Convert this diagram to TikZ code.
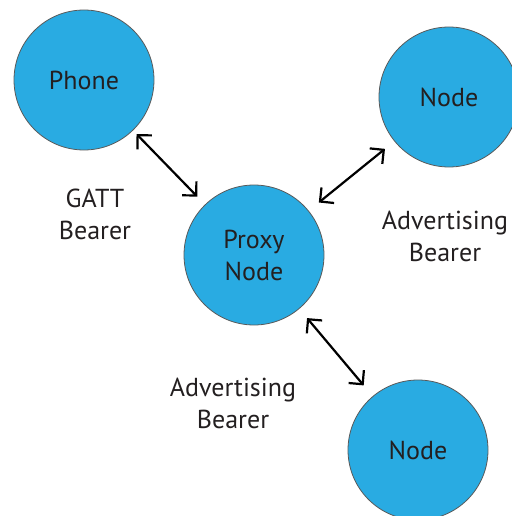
\documentclass[tikz,border=0pt]{standalone}
\usepackage{fontspec}
\setmainfont{PT Sans}
\usetikzlibrary{arrows.meta, positioning}
\definecolor{meshblue}{RGB}{41,171,226}
\definecolor{inktext}{RGB}{35,31,32}

\begin{document}
\begin{tikzpicture}[x=1pt,y=-1pt,
        dev/.style={circle, draw=black!65, line width=0.8pt, fill=meshblue,
            minimum size=140pt, inner sep=0pt, align=center,
            font=\fontsize{26}{32}\selectfont, text=inktext},
        lbl/.style={align=center, font=\fontsize{26}{32}\selectfont, text=inktext},
        link/.style={{Straight Barb[length=10pt,width=20pt]}-{Straight Barb[length=10pt,width=20pt]}, line width=2.2pt}]
            \useasboundingbox (0,0) rectangle (511,516);
            \draw (84,80) node[dev] (phone) {Phone};
            \draw (254,255) node[dev] (proxy) {Proxy\\Node};
            \draw (449,97) node[dev] (nodeA) {Node};
            \draw (418,450) node[dev] (nodeB) {Node};
            \draw (95,214) node[lbl] (gatt) {GATT\\Bearer};
            \draw (445,236) node[lbl] (advA) {Advertising\\Bearer};
            \draw (233,403) node[lbl] (advB) {Advertising\\Bearer};
            \path[link]
            (phone) edge[shorten <=5pt, shorten >=11pt] (proxy)
            (proxy) edge[shorten <=13pt, shorten >=12pt] (nodeA)
                    edge[shorten <=12pt, shorten >=14pt] (nodeB);
        \end{tikzpicture}
\end{document}
